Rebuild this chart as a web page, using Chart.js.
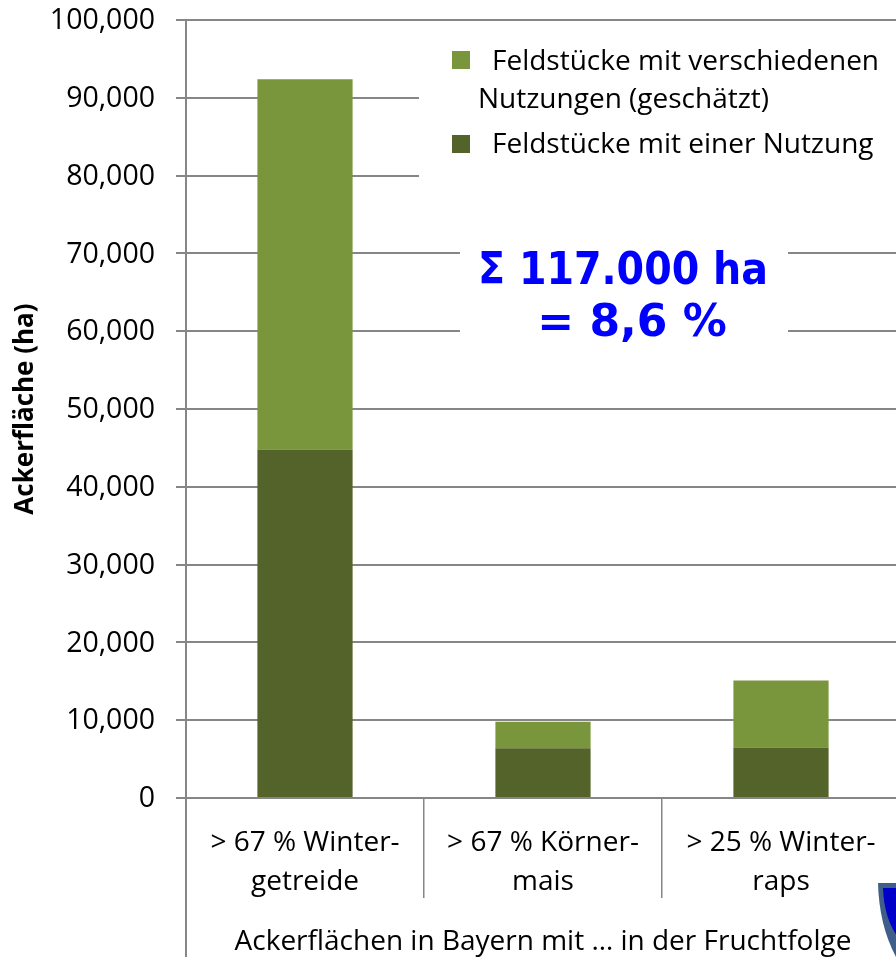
<!DOCTYPE html>
<html><head><meta charset="utf-8">
<script src="https://cdn.jsdelivr.net/npm/chart.js@4"></script>
<style>html,body{margin:0;padding:0;background:#fff;overflow:hidden;width:896px;height:957px}#wrap{width:896px;height:957px;overflow:hidden}canvas{display:block}</style>
</head><body><div id="wrap"><canvas id="c" width="900" height="957"></canvas></div>
<script>
const categories = [["> 67 % Winter-","getreide"],["> 67 % Körner-","mais"],["> 25 % Winter-","raps"]];
const singleUse = [44800, 6400, 6500];
const multiUse = [47600, 3400, 8600];
const singleLabel = "Feldstücke mit einer Nutzung";
const multiLabel = ["Feldstücke mit verschiedenen","Nutzungen (geschätzt)"];
const annotationLines = ["Σ 117.000 ha","= 8,6 %"];
const xTitle = "Ackerflächen in Bayern mit … in der Fruchtfolge";
const yTitle = "Ackerfläche (ha)";
const FONT = '"Open Sans"';
const GRID = '#868686';
const LIGHT = '#7a963d', DARK = '#536329';

const overlay = {
  id:'overlay',
  afterDraw(chart){
    const {ctx} = chart; const xs = chart.scales.x;
    ctx.save();
    ctx.strokeStyle = GRID; ctx.lineWidth = 2;
    ctx.beginPath(); ctx.moveTo(xs.left, xs.top); ctx.lineTo(xs.left, 957); ctx.stroke();
    ctx.fillStyle = '#fff';
    ctx.fillRect(419, 32, 481, 170);
    ctx.fillRect(460, 240, 328, 110);
    ctx.textBaseline = 'alphabetic'; ctx.textAlign = 'left';
    ctx.font = '28px ' + FONT;
    ctx.fillStyle = LIGHT; ctx.fillRect(452, 51, 18, 18);
    ctx.fillStyle = DARK; ctx.fillRect(452, 135, 18, 18);
    ctx.fillStyle = '#000';
    ctx.fillText(multiLabel[0], 492, 70);
    ctx.fillText(multiLabel[1], 478, 108);
    ctx.fillText(singleLabel, 492, 153);
    ctx.fillStyle = '#0000ff'; ctx.textAlign = 'center';
    ctx.font = 'bold 44px "DejaVu Sans Condensed"';
    ctx.fillText(annotationLines[0], 623, 284);
    ctx.font = 'bold 44px "DejaVu Sans"';
    ctx.fillText(annotationLines[1], 632, 336);
    ctx.fillStyle = '#3f5f8a';
    ctx.beginPath(); ctx.moveTo(878,883); ctx.lineTo(900,883); ctx.lineTo(900,957); ctx.lineTo(896,957);
    ctx.quadraticCurveTo(879,925,878,883); ctx.closePath(); ctx.fill();
    ctx.fillStyle = '#0000c8';
    ctx.beginPath(); ctx.moveTo(883,888); ctx.lineTo(900,888); ctx.lineTo(900,940);
    ctx.quadraticCurveTo(884,920,883,888); ctx.closePath(); ctx.fill();
    ctx.restore();
  }
};

new Chart(document.getElementById('c'), {
  type:'bar',
  data:{labels:categories, datasets:[
    {label:singleLabel, data:singleUse, backgroundColor:DARK, stack:'a', barPercentage:0.4, categoryPercentage:1},
    {label:multiLabel.join(' '), data:multiUse, backgroundColor:LIGHT, stack:'a', barPercentage:0.4, categoryPercentage:1}
  ]},
  options:{
    responsive:false, animation:false, devicePixelRatio:1,
    layout:{padding:{top:20,left:0,right:0,bottom:0}},
    plugins:{legend:{display:false},tooltip:{enabled:false}},
    scales:{
      x:{stacked:true,
        afterFit(s){s.height=159;s.paddingLeft=0;s.paddingRight=0;},
        grid:{drawOnChartArea:false,drawTicks:true,tickLength:100,color:GRID,lineWidth:1.5,offset:true},
        border:{color:GRID,width:2},
        ticks:{color:'#000',font:{family:FONT,size:28,lineHeight:1.39},maxRotation:0,autoSkip:false,padding:-74},
        title:{display:true,text:xTitle,color:'#000',font:{family:FONT,size:28},padding:{top:0,bottom:-2}}
      },
      y:{stacked:true,min:0,max:100000,
        afterFit(s){s.width=186;s.paddingTop=0;s.paddingBottom=0;},
        grid:{color:GRID,lineWidth:2,tickLength:10,drawTicks:true},
        border:{color:GRID,width:2},
        ticks:{stepSize:10000,color:'#000',padding:21,labelOffset:1,font:{family:FONT,size:28.5},
          callback:v=>v.toLocaleString('en-US')},
        title:{display:true,text:yTitle,color:'#000',font:{family:FONT,size:26,weight:'bold'},padding:{top:10,bottom:0}}
      }
    }
  },
  plugins:[overlay]
});
</script></body></html>
